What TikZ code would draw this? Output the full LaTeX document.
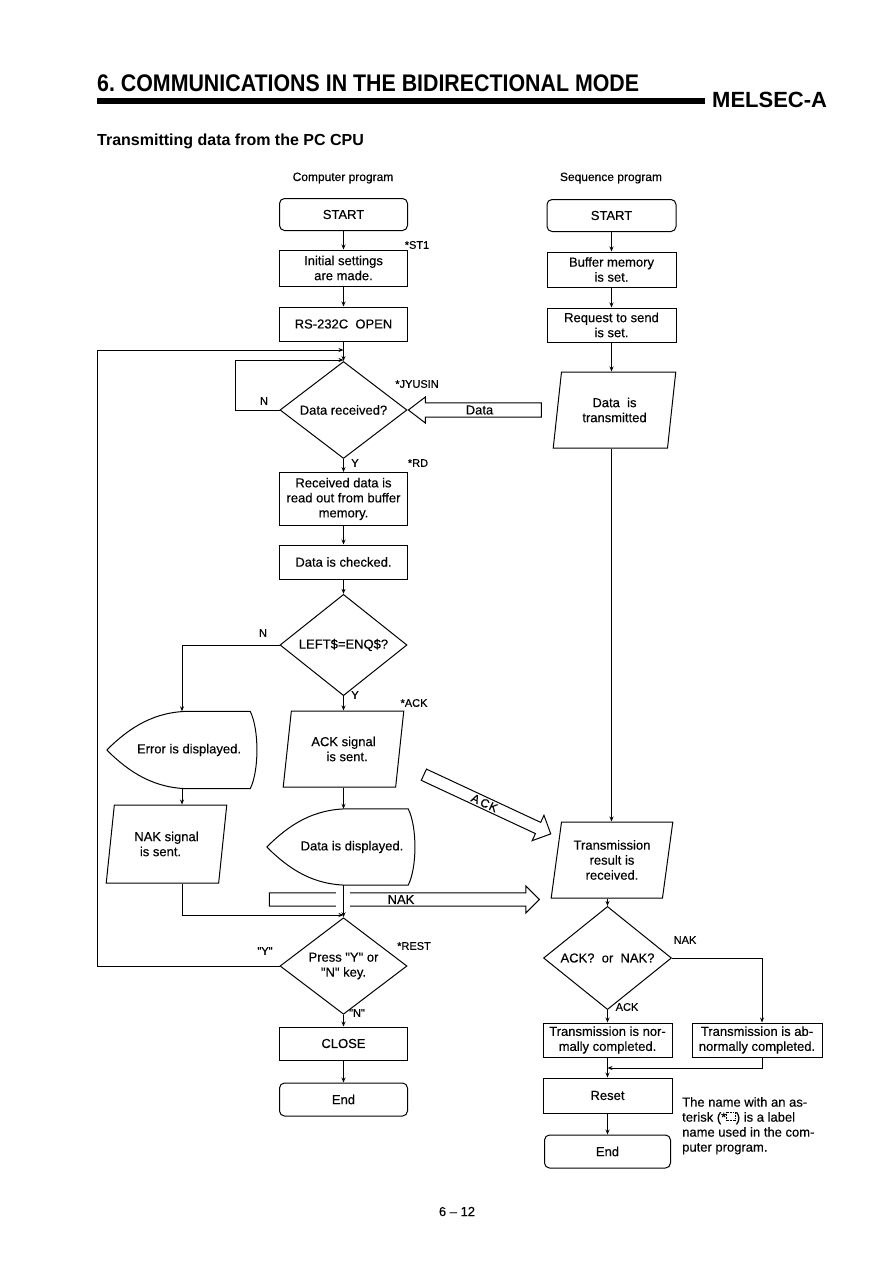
\documentclass[tikz,border=0pt]{standalone}
\usepackage{fontspec}
\setmainfont{Liberation Sans}[UprightFeatures={FakeBold=0.3}]
\newfontfamily\headfont{Liberation Sans}[FakeStretch=0.89]
\usetikzlibrary{arrows.meta,calc,shapes.geometric,shapes.arrows}
\newcommand\sz[2]{\fontsize{#1}{#2}\selectfont}
\tikzset{
  flow/.style={-{Stealth[length=5pt,width=4pt]}, line width=0.9pt},
  procbox/.style={draw, line width=1pt, minimum width=128pt, minimum height=34pt,
                  align=center, font=\sz{13}{15}, inner sep=2pt},
  termbox/.style={procbox, rounded corners=5pt, minimum height=32pt},
  decide/.style={diamond, draw, line width=1pt, minimum width=127pt, minimum height=78pt,
                 inner sep=0pt, align=center, font=\sz{13}{15}},
  iobox/.style={trapezium, trapezium left angle=79, trapezium right angle=101,
                trapezium stretches=true, draw, line width=1pt, minimum width=122pt,
                minimum height=76pt, align=center, font=\sz{13}{15}, inner sep=1pt},
  dispbox/.style={minimum width=150pt, minimum height=77pt, align=center, font=\sz{13}{15}},
  hollow/.style={single arrow, draw, line width=1pt, font=\sz{13}{15}, inner sep=1pt},
  tag/.style={font=\sz{11}{13}, inner sep=1pt},
}
% outline of a display symbol round a node
\newcommand\displine[1]{%
  \draw[line width=1pt] (#1.west) .. controls +(23,-23) and +(-35,0) .. ($(#1.north)+(8,0)$)
    -- ($(#1.north east)+(-7,0)$) .. controls +(9,18) and +(9,-18) .. ($(#1.south east)+(-7,0)$)
    -- ($(#1.south)+(8,0)$) .. controls +(-35,0) and +(23,23) .. (#1.west);}

\begin{document}
\begin{tikzpicture}[x=1pt,y=-1pt]
  \useasboundingbox[fill=white] (0,0) rectangle (893,1263);

  % page heading
  \node[anchor=base west, inner sep=0pt, font=\headfont\bfseries\sz{24}{28}] (title) at (97,91)
    {6.\ COMMUNICATIONS IN THE BIDIRECTIONAL MODE};
  \draw[line width=6.5pt] (97,101) -- (705,101);
  \node[anchor=base west, inner sep=0pt, font=\bfseries\sz{22}{26}] (maker) at (712,107) {MELSEC-A};
  \node[anchor=base west, inner sep=0pt, font=\bfseries\sz{16}{19}] (sub) at (97,145)
    {Transmitting data from the PC CPU};
  \node[anchor=base, font=\sz{12}{14}] (hdL) at (343,181) {Computer program};
  \node[anchor=base, font=\sz{12}{14}] (hdR) at (611,181) {Sequence program};

  % computer program
  \node[termbox] (startL) at (343.5,214.5) {START};
  \node[procbox, minimum height=36pt] (init) at (343.5,268) {Initial settings\\are made.};
  \node[procbox] (open) at (343.5,324) {RS-232C\ \ OPEN};
  \node[decide] (recv) at (343.5,410) {Data received?};
  \node[procbox, minimum height=53pt] (rd) at (343.5,499) {Received data is\\read out from buffer\\memory.};
  \node[procbox] (chk) at (343.5,562) {Data is checked.};
  \node[decide, minimum height=79pt] (enq) at (343.5,645) {LEFT\$=ENQ\$?};
  \node[dispbox] (err) at (182,750) {\hspace*{14pt}Error is displayed.};
  \displine{err}
  \node[iobox, minimum width=121pt] (acks) at (343.5,749) {ACK signal\\\ \ is sent.};
  \node[iobox, minimum width=121pt, minimum height=78pt] (naks) at (166.5,844) {NAK signal\\is sent.\hspace*{12pt}};
  \node[dispbox, minimum width=148pt, minimum height=76pt] (dispd) at (341,847) {\hspace*{22pt}Data is displayed.};
  \displine{dispd}
  \node[decide] (press) at (343.5,966) {Press \textquotedbl Y\textquotedbl{} or\\\textquotedbl N\textquotedbl{} key.};
  \node[procbox, minimum height=33pt] (close) at (343.5,1043.5) {CLOSE};
  \node[termbox, minimum height=33pt] (endL) at (343.5,1099.5) {End};

  % sequence program
  \node[termbox, minimum width=129pt] (startR) at (611.5,215.5) {START};
  \node[procbox, minimum width=129pt, minimum height=35pt] (buf) at (611.5,269.5) {Buffer memory\\is set.};
  \node[procbox, minimum width=129pt] (req) at (611.5,325) {Request to send\\is set.};
  \node[iobox, minimum width=123pt] (dtx) at (614.5,410) {Data\ \ is\\transmitted};
  \node[iobox] (tres) at (612,860) {Transmission\\result is\\received.};
  \node[decide, minimum width=128pt, minimum height=79pt] (ackq) at (607.5,958) {ACK?\ \ or\ \ NAK?};
  \node[procbox, minimum width=129pt] (norm) at (607.5,1040) {Transmission is nor-\\mally completed.};
  \node[procbox, minimum width=130pt] (abn) at (757,1040) {Transmission is ab-\\normally completed.};
  \node[procbox, minimum width=129pt, minimum height=35pt] (reset) at (607.5,1095.5) {Reset};
  \node[termbox, minimum width=126pt, minimum height=33pt] (endR) at (607.5,1151.5) {End};

  % hollow signal arrows
  \node[hollow, shape border rotate=180, minimum height=133pt, minimum width=26pt,
        single arrow head extend=5pt, single arrow tip angle=75] (dataA) at (479.5,410) {Data};
  \node[hollow, minimum height=270pt, minimum width=27pt,
        single arrow head extend=6pt, single arrow tip angle=90] (nakA) at (401,899.5) {NAK};
  \node[hollow, rotate=-25, minimum height=140pt, minimum width=28pt, inner sep=0pt,
        font=\sz{12}{14}, single arrow head extend=6pt, single arrow tip angle=90] (ackA) at (484.5,803)
        {A\hspace{2pt}C\hspace{1pt}K};

  % junctions
  \coordinate (j1) at (343.5,350);
  \coordinate (j2) at (343.5,360);
  \coordinate (j3) at (343.5,915);
  \coordinate (j4) at (607.5,1068);
  \coordinate (nloop) at (235,360);
  \coordinate (yloop) at (97,350);

  % flow, computer program
  \draw[flow] (startL) -- (init);
  \draw[flow] (init) -- (open);
  \draw[flow] (open) -- (recv);
  \draw[flow] (recv.west) -| (nloop) -- (j2);
  \draw[flow] (press.west) -| (yloop) -- (j1);
  \draw[flow] (recv) -- (rd);
  \draw[flow] (rd) -- (chk);
  \draw[flow] (chk) -- (enq);
  \draw[flow] (enq.west) -| (err.north);
  \draw[flow] (enq.south) -- (enq.south |- acks.north);
  \draw[flow] (err.south) -- (err.south |- naks.north);
  \draw[flow] (err.south |- naks.south) |- (j3);
  \draw[flow] (enq.south |- acks.south) -- (enq.south |- dispd.north);
  \fill[white] (336,888) rectangle (350,911);
  \draw[flow] (enq.south |- dispd.south) -- (press.north);
  \draw[flow] (press) -- (close);
  \draw[flow] (close) -- (endL);

  % flow, sequence program
  \draw[flow] (startR) -- (buf);
  \draw[flow] (buf) -- (req);
  \draw[flow] (req.south) -- (req.south |- dtx.north);
  \draw[flow] (req.south |- dtx.south) -- (req.south |- tres.north);
  \draw[flow] (ackq.north |- tres.south) -- (ackq.north);
  \draw[flow] (ackq.east) -| ($(abn.north)+(5,0)$);
  \draw[flow] (ackq) -- (norm);
  \draw[flow] ($(abn.south)+(5,0)$) |- (j4);
  \draw[flow] (norm) -- (reset);
  \draw[flow] (reset) -- (endR);

  % branch and label tags
  \node[tag] (tST1) at (417,245) {*ST1};
  \node[tag] (tJY) at (417,384) {*JYUSIN};
  \node[tag] (tN1) at (264,401) {N};
  \node[tag] (tY1) at (355,463) {Y};
  \node[tag] (tRD) at (418,463) {*RD};
  \node[tag] (tN2) at (263,633) {N};
  \node[tag] (tY2) at (355,695) {Y};
  \node[tag] (tACK) at (414,703) {*ACK};
  \node[tag] (tY3) at (265,951) {\textquotedbl Y\textquotedbl};
  \node[tag] (tREST) at (414,946) {*REST};
  \node[tag] (tN3) at (357,1013) {\textquotedbl N\textquotedbl};
  \node[tag] (tNAK) at (685,940) {NAK};
  \node[tag] (tACK2) at (627,1007) {ACK};

  % note and page number
  \node[anchor=north west, align=left, inner sep=0pt, font=\sz{13}{15}] (note) at (682,1097)
    {The name with an as-\\terisk (*\tikz[baseline=-1pt]\draw[densely dotted, line width=0.6pt] (0pt,0pt) rectangle (9pt,8pt);) is a label\\name used in the com-\\puter program.};
  \node[anchor=base, font=\sz{13}{15}] (page) at (457,1216) {6 -- 12};
\end{tikzpicture}
\end{document}
